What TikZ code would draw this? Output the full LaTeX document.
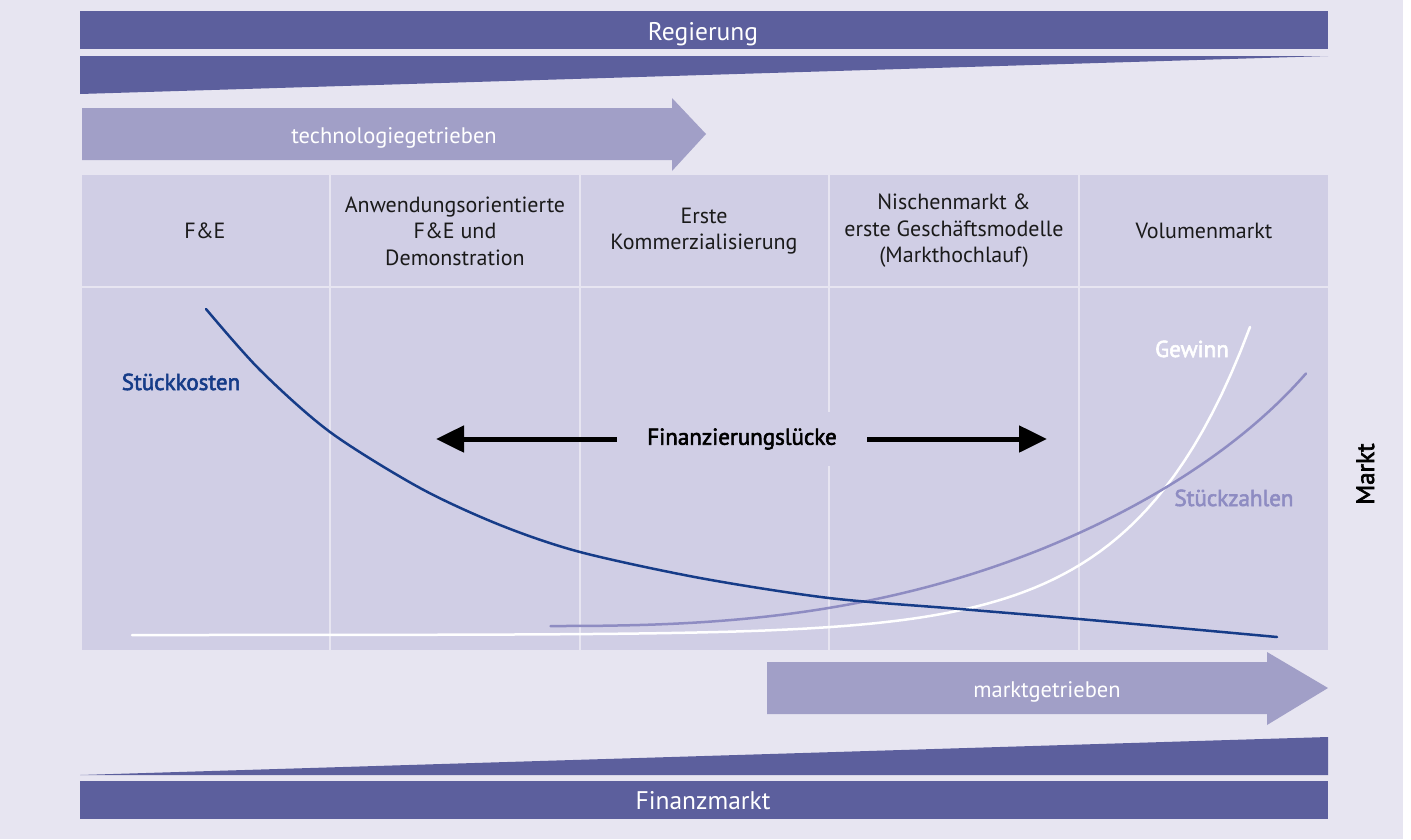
\documentclass[tikz,border=0pt]{standalone}
\usepackage{fontspec}
\setmainfont{PT Sans}
\newfontfamily\medfont[FakeBold=2.5]{PT Sans}
\usetikzlibrary{arrows.meta}
\definecolor{bgc}{HTML}{E7E5F1}
\definecolor{barc}{HTML}{5C5F9D}
\definecolor{arrc}{HTML}{A19FC7}
\definecolor{cellc}{HTML}{D0CEE5}
\definecolor{costc}{HTML}{163C88}
\definecolor{unitc}{HTML}{8E8CC2}
\definecolor{txtc}{HTML}{1A1A1A}
\begin{document}
\begin{tikzpicture}[x=1pt,y=-1pt,
  bartext/.style={text=white,font=\fontsize{25.5}{30}\selectfont,inner sep=0pt,anchor=base},
  flowtext/.style={text=white,font=\fontsize{22.5}{27}\selectfont,inner sep=0pt,anchor=base},
  headtext/.style={text=txtc,font=\fontsize{22}{26.5}\selectfont,align=center,inner sep=0pt},
  curvelabel/.style={font=\fontsize{23}{27}\medfont,inner sep=0pt,anchor=base},
  curve/.style={line width=2.5pt,line cap=round},
  gaparrow/.style={line width=5pt,-{Triangle[length=28pt,width=26pt]}},
  divider/.style={draw=bgc,line width=2pt}]
\useasboundingbox (0,0) rectangle (1411,839);
% page background
\fill[bgc] (0,0) rectangle (1403,839);
\fill[white] (1403,0) rectangle (1411,839);

% government bar and its wedge
\fill[barc] (80,11) rectangle (1328,49);
\node[bartext] (regierung) at (703,40) {Regierung};
\fill[barc] (80,56) -- (1328,56) -- (80,94) -- cycle;

% technology-driven arrow
\fill[arrc] (82,108) -- (672,108) -- (672,98) -- (706,134) -- (672,171) -- (672,160) -- (82,160) -- cycle;
\node[flowtext] (tech) at (394,143) {technologiegetrieben};

% table of phases
\fill[cellc] (82,175) rectangle (1328,650);
\draw[divider] (82,287) -- (1328,287);
\foreach \xd in {330,580,829,1079} \draw[divider] (\xd,175) -- (\xd,650);

\node[headtext] (p1) at (205,231) {F\&E};
\node[headtext] (p2) at (455,231) {Anwendungsorientierte\\F\&E und\\Demonstration};
\node[headtext] (p3) at (704,231) {Erste\\Kommerzialisierung};
\node[headtext] (p4) at (954,231) {Nischenmarkt \&\\erste Geschäftsmodelle\\(Markthochlauf)};
\node[headtext] (p5) at (1204,231) {Volumenmarkt};

% curves: profit, unit numbers, unit cost
\draw[curve,white] plot[domain=132:1250,samples=120] (\x,{635-308*exp(0.0087*(\x-1250))});
\draw[curve,unitc] plot[domain=550.5:1306,samples=120] (\x,{626-80*((\x-550)/500)^2.55-23*exp(8*((\x-550)/500-1.512))});
\draw[curve,costc] plot[smooth,tension=0.5] coordinates {(206,309) (260,370) (330,432) (420,488) (500,525) (580,552) (700,578) (829,598) (960,609) (1079,619) (1277,637)};

\node[curvelabel,text=costc] (kosten) at (181,390) {Stückkosten};
\node[curvelabel,text=white] (gewinn) at (1192,357) {Gewinn};
\node[curvelabel,text=unitc] (zahlen) at (1234,506) {Stückzahlen};

% financing gap
\node[font=\fontsize{23}{27}\medfont,text=black,fill=cellc,inner sep=0pt,minimum width=250pt,minimum height=54pt] (gap) at (742,439) {Finanzierungslücke};
\coordinate (gapL) at (436,439);
\coordinate (gapR) at (1047,439);
\draw[gaparrow] (gap.west) -- (gapL);
\draw[gaparrow] (gap.east) -- (gapR);

% market-driven arrow
\fill[arrc] (767,662) -- (1267,662) -- (1267,652) -- (1328,688) -- (1267,725) -- (1267,714) -- (767,714) -- cycle;
\node[flowtext] (markt) at (1047,697) {marktgetrieben};

% financial market wedge and bar
\fill[barc] (80,775) -- (1328,737) -- (1328,775) -- cycle;
\fill[barc] (80,781) rectangle (1328,819);
\node[bartext] (finanz) at (703,809) {Finanzmarkt};

% market side label
\node[curvelabel,text=black,rotate=90,font=\fontsize{25}{30}\medfont] (marktside) at (1374,474) {Markt};
\end{tikzpicture}
\end{document}
